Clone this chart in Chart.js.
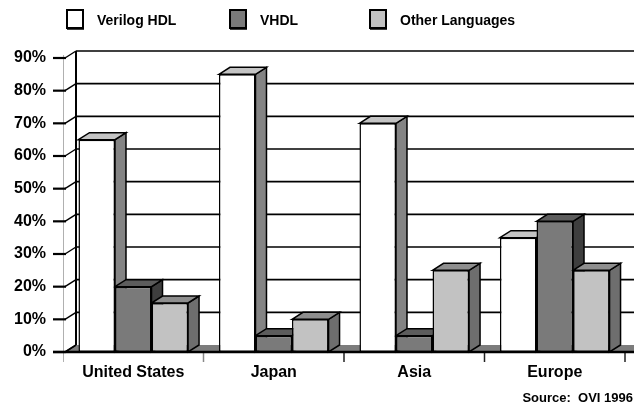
<!DOCTYPE html>
<html>
<head>
<meta charset="utf-8">
<script src="https://cdn.jsdelivr.net/npm/chart.js@4/dist/chart.umd.min.js"></script>
<style>
  html, body { margin: 0; padding: 0; background: #fff; overflow: hidden; }
  #wrap { width: 634px; height: 407px; }
</style>
</head>
<body>
<div id="wrap"><canvas id="c" width="634" height="407"></canvas></div>
<script>
// HDL usage by region (share of designers, %)
const regions = ['United States', 'Japan', 'Asia', 'Europe'];
const verilogShare = [65, 85, 70, 35];
const vhdlShare = [20, 5, 5, 40];
const otherShare = [15, 10, 25, 25];
const seriesNames = ['Verilog HDL', 'VHDL', 'Other Languages'];
const percentTicks = [0, 10, 20, 30, 40, 50, 60, 70, 80, 90];
const sourceNote = 'Source:  OVI 1996';

const FONT = '"Liberation Sans", Arial, Helvetica, sans-serif';
// front / top / side shading for each series
const shades = [
  { front: '#ffffff', top: '#c4c4c4', side: '#848484' },
  { front: '#7a7a7a', top: '#5c5c5c', side: '#3e3e3e' },
  { front: '#c2c2c2', top: '#8e8e8e', side: '#6e6e6e' }
];
const DX = 11, DY = -7;   // depth offset of the 3-D extrusion

function poly(ctx, pts, fill, stroke, lw) {
  ctx.beginPath();
  ctx.moveTo(pts[0][0], pts[0][1]);
  for (let i = 1; i < pts.length; i++) ctx.lineTo(pts[i][0], pts[i][1]);
  ctx.closePath();
  if (fill) { ctx.fillStyle = fill; ctx.fill(); }
  if (stroke) { ctx.strokeStyle = stroke; ctx.lineWidth = lw || 1; ctx.stroke(); }
}
function line(ctx, x1, y1, x2, y2, color, lw) {
  ctx.beginPath();
  ctx.moveTo(x1, y1); ctx.lineTo(x2, y2);
  ctx.strokeStyle = color; ctx.lineWidth = lw; ctx.stroke();
}

const frame3d = {
  id: 'frame3d',
  beforeDraw(chart) {
    const ctx = chart.ctx;
    ctx.save();
    ctx.fillStyle = '#fff';
    ctx.fillRect(0, 0, chart.width, chart.height);
    ctx.restore();
  },
  beforeDatasetsDraw(chart) {
    const { ctx, chartArea: a, scales: { x, y } } = chart;
    const W = chart.width;
    const y0 = y.getPixelForValue(0);
    const wallX = a.left + 13;
    ctx.save();

    // faint vertical axis line
    line(ctx, a.left + 0.5, y.getPixelForValue(90) - 3, a.left + 0.5, y0 + 10, '#b0b0b0', 1);

    // floor
    poly(ctx, [[a.left + 2, y0], [wallX, y0 + DY], [W, y0 + DY], [W, y0]], '#7c7c7c');

    // back wall gridlines and left edge
    percentTicks.forEach(v => {
      const py = y.getPixelForValue(v) + DY;
      if (v > 0) line(ctx, wallX, py, W, py, '#000', 1.6);
    });
    line(ctx, wallX, y.getPixelForValue(90) + DY, wallX, y0 + DY, '#000', 2);
    line(ctx, a.left + 2, y0, wallX, y0 + DY, '#000', 1.5);

    // value axis tick marks with their depth connectors
    percentTicks.forEach(v => {
      const py = y.getPixelForValue(v);
      line(ctx, a.left - 10, py, a.left + 3, py, '#000', 2.2);
      line(ctx, a.left + 2, py, wallX, py + DY, '#000', 1.4);
    });

    // category boundary ticks
    const cw = x.width / regions.length;
    for (let i = 1; i <= regions.length; i++) {
      const bx = x.left + i * cw;
      line(ctx, bx, y0, bx, y0 + 10, i === 1 ? '#888' : '#222', 1.5);
    }

    // bar extrusions (top and side faces), left to right
    for (let i = 0; i < regions.length; i++) {
      chart.data.datasets.forEach((ds, d) => {
        const el = chart.getDatasetMeta(d).data[i];
        const L = el.x - el.width / 2, R = el.x + el.width / 2;
        const T = el.y, B = el.base;
        const s = shades[d];
        poly(ctx, [[R, T], [R + DX, T + DY], [R + DX, B + DY], [R, B]], s.side, '#000', 1.5);
        poly(ctx, [[L, T], [L + DX, T + DY], [R + DX, T + DY], [R, T]], s.top, '#000', 1.5);
      });
    }
    ctx.restore();
  },
  afterDatasetsDraw(chart) {
    const { ctx, chartArea: a, scales: { y } } = chart;
    const y0 = y.getPixelForValue(0);
    ctx.save();
    line(ctx, a.left - 10, y0, chart.width, y0, '#000', 2.5);
    ctx.restore();
  },
  afterDraw(chart) {
    const ctx = chart.ctx;
    ctx.save();
    // legend
    const boxX = [67, 230, 370];
    chart.data.datasets.forEach((ds, d) => {
      const bx = boxX[d];
      ctx.fillStyle = shades[d].front;
      ctx.fillRect(bx, 10, 16, 18);
      ctx.strokeStyle = '#000';
      ctx.lineWidth = 2;
      ctx.strokeRect(bx, 10, 16, 18);
      line(ctx, bx, 29, bx + 17, 29, '#000', 1.5);
      ctx.fillStyle = '#000';
      ctx.font = 'bold 14px ' + FONT;
      ctx.textBaseline = 'middle';
      ctx.textAlign = 'left';
      ctx.fillText(ds.label, bx + 30, 21);
    });
    // source note
    ctx.font = 'bold 13px ' + FONT;
    ctx.textAlign = 'right';
    ctx.textBaseline = 'alphabetic';
    ctx.fillText(sourceNote, 633, 402);
    ctx.restore();
  }
};

const seriesValues = [verilogShare, vhdlShare, otherShare];

new Chart(document.getElementById('c'), {
  type: 'bar',
  data: {
    labels: regions,
    datasets: seriesNames.map((name, d) => ({
      label: name,
      data: seriesValues[d],
      backgroundColor: shades[d].front,
      borderColor: '#000',
      borderWidth: 1.5,
      borderSkipped: false,
      categoryPercentage: 0.78,
      barPercentage: 1,
      clip: false
    }))
  },
  options: {
    responsive: false,
    devicePixelRatio: 1,
    animation: false,
    layout: { padding: { top: 58, right: 9, bottom: 0, left: 0 } },
    plugins: { legend: { display: false }, tooltip: { enabled: false } },
    scales: {
      x: {
        grid: { display: false, drawTicks: false },
        border: { display: false },
        ticks: {
          color: '#000',
          font: { family: FONT, size: 16, weight: 'bold' },
          padding: 11,
          maxRotation: 0,
          autoSkip: false
        },
        afterFit(s) { s.height = 55; }
      },
      y: {
        min: 0,
        max: 90,
        grid: { display: false, drawTicks: false },
        border: { display: false },
        ticks: {
          color: '#000',
          font: { family: FONT, size: 16, weight: 'bold' },
          padding: 17,
          callback: v => v + '%'
        },
        afterBuildTicks(s) { s.ticks = percentTicks.map(v => ({ value: v })); },
        afterFit(s) { s.width = 63; }
      }
    }
  },
  plugins: [frame3d]
});
</script>
</body>
</html>
